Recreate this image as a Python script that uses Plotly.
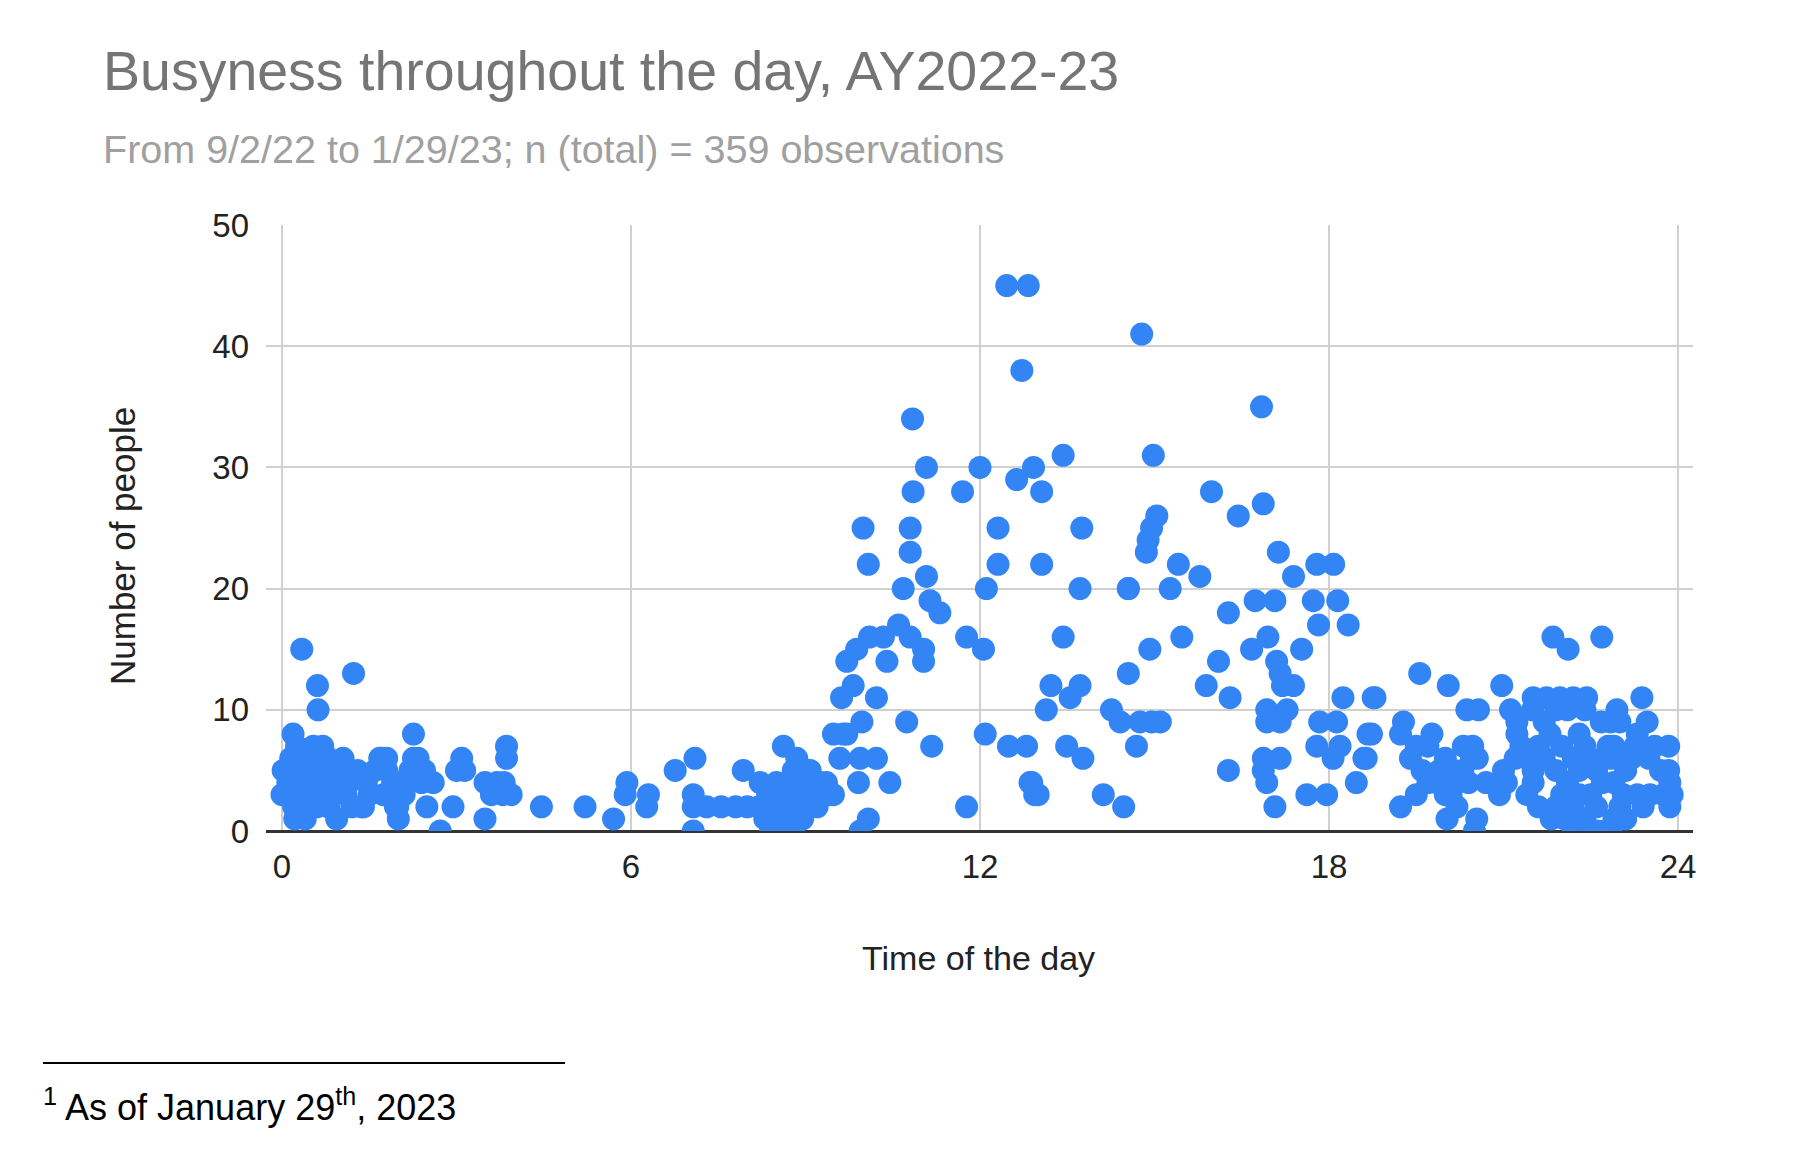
import plotly.graph_objects as go

# ---------------- data (hour of day, number of people) ----------------
night_hours = [0.34, 0.61, 0.62, 1.23, 0.19, 2.26, 3.86, 3.86, 3.09, 3.14, 2.34, 1.71, 1.05, 0.54, 0.05, 0.0, 0.22, 0.94, 2.0, 2.72,
               3.49, 4.46, 2.94, 2.49, 2.6, 3.49, 3.94, 1.37,
               0.1, 0.15, 0.25, 0.3, 0.35, 0.4, 0.45, 0.5, 0.55, 0.6, 0.65, 0.7, 0.75, 0.8, 0.85, 0.9, 1.0, 1.1, 1.15, 1.3,
               1.45, 1.5, 1.6, 1.8, 1.9, 2.1, 2.2, 2.4, 3.7, 3.8, 0.2, 0.4, 1.2, 0.8, 1.95, 2.45, 3.6, 3.0,
               2.03, 1.68, 1.74, 1.8, 1.99, 1.4, 0.6, 0.02, 3.82, 2.26]
night_people = [15, 12, 10, 13, 8, 8, 7, 6, 6, 5, 6, 6, 6, 7, 5, 3, 1, 1, 1, 0,
                1, 2, 2, 2, 4, 4, 3, 2,
                4, 6, 7, 5, 3, 4, 2, 6, 5, 3, 4, 7, 5, 2, 3, 4, 5, 3, 4, 5,
                4, 3, 5, 6, 4, 3, 5, 4, 4, 3, 2, 1, 2, 6, 2, 5, 3, 5,
                4, 6, 3, 5, 2, 2, 2, 5, 4, 6]

morning_hours = [5.21, 5.70, 5.93, 5.90, 6.30, 6.27, 6.76, 7.10, 7.07, 7.07, 7.07, 7.3, 7.55, 7.8, 8.0, 7.93, 8.22, 8.62, 8.85, 9.08,
                 9.36, 9.48,
                 8.2, 8.3, 8.35, 8.4, 8.45, 8.5, 8.55, 8.6, 8.65, 8.7, 8.75, 8.8, 8.9, 8.95, 9.0, 9.1, 9.2,
                 8.4, 8.6, 8.8, 8.5, 8.7, 9.0, 9.2, 8.79, 9.02, 9.25, 9.42]
morning_people = [2, 1, 4, 3, 3, 2, 5, 6, 3, 2, 0, 2, 2, 2, 2, 5, 4, 7, 6, 5,
                  4, 3,
                  2, 1, 3, 2, 1, 2, 3, 1, 2, 3, 1, 2, 3, 1, 2, 3, 2,
                  0, 0, 0, 4, 4, 4, 3, 5, 5, 4, 3]

midday_hours = [9.65, 9.62, 9.71, 10.08, 10.80, 11.08, 10.68, 11.14, 11.31, 12.11,
                12.31, 13.06, 13.72, 13.43, 11.77, 12.06, 10.6, 9.88, 10.1, 10.34,
                10.4, 10.8, 11.03, 11.03, 9.82, 10.22, 9.97, 10.74, 9.48, 9.71,
                11.17, 9.59, 9.94, 10.22, 9.91, 10.45, 10.08, 9.94, 11.77, 12.09,
                12.49, 12.8, 12.89, 12.94, 13.14, 13.22, 13.72, 13.55, 13.49, 13.77,
                12.46, 12.83, 12.72, 10.84, 11.08, 12.0, 13.43, 12.63, 12.92, 13.06, 10.85, 11.70, 9.99, 10.80, 12.31, 13.75,
                12.86, 13.0, 14.12, 14.47, 14.26, 14.41]
midday_people = [8, 11, 14, 22, 23, 21, 20, 19, 18, 20,
                 22, 22, 20, 16, 16, 15, 17, 15, 16, 16,
                 14, 16, 15, 14, 12, 11, 9, 9, 8, 8,
                 7, 6, 6, 6, 4, 4, 1, 0, 2, 8,
                 7, 7, 4, 3, 10, 12, 12, 11, 7, 6,
                 45, 45, 38, 34, 30, 30, 31, 29, 30, 28, 28, 28, 25, 25, 25, 25,
                 4, 3, 3, 2, 10, 9]

afternoon_hours = [14.78, 16.84, 14.98, 15.98, 16.87, 16.44, 15.04, 14.95, 14.89, 14.86,
                   17.13, 15.41, 15.78, 17.39, 17.79, 18.08, 14.55, 15.27, 16.73, 17.07,
                   17.73, 18.15, 17.82, 18.33, 16.27, 15.47, 14.92, 16.95, 16.67, 17.53,
                   16.10, 14.55, 15.89, 16.30, 17.1, 17.16, 17.2, 17.39, 16.93, 17.28,
                   16.93, 17.16, 18.24, 18.76, 17.84, 18.13, 18.19, 18.07, 17.79, 18.67,
                   18.64, 18.47, 17.62, 17.96, 17.07, 16.87, 17.16, 16.87, 16.93, 16.27,
                   14.75, 14.95, 15.1, 14.69, 14.55]
afternoon_people = [41, 35, 31, 28, 27, 26, 26, 25, 24, 23,
                    23, 22, 21, 21, 22, 22, 20, 20, 19, 19,
                    19, 19, 17, 17, 18, 16, 15, 16, 15, 15,
                    14, 13, 12, 11, 14, 13, 12, 12, 10, 10,
                    9, 9, 11, 11, 9, 9, 7, 6, 7, 8,
                    6, 4, 3, 3, 2, 6, 6, 5, 4, 5,
                    9, 9, 9, 7, 20]

evening_hours = [21.85, 22.11, 22.69, 19.56, 20.05, 18.79, 20.97, 20.37, 20.57, 23.38,
                 23.47, 21.51, 21.74, 21.97, 22.2, 22.43, 21.12, 21.23, 21.23, 22.95,
                 22.84, 22.68, 21.5, 21.7, 21.9, 22.1, 22.4, 19.28, 19.23, 19.77,
                 18.73, 18.60, 19.50, 20.31, 20.47, 19.6, 19.7, 19.85, 20.0, 20.15,
                 20.3, 20.45, 20.55, 20.0, 20.2, 19.9, 20.1, 19.23, 20.03, 20.54,
                 20.5, 21.05, 20.93, 21.4, 21.51, 21.51, 21.82, 22.1, 22.3, 22.3,
                 22.5, 22.5, 22.2, 22.4, 22.6, 22.2, 22.4, 22.6, 22.75, 22.85,
                 23.06, 23.3, 23.52, 23.75, 23.86, 23.26, 23.5, 23.84, 23.84, 23.86,
                 22.9, 22.85, 22.8, 21.6, 21.7, 21.8, 21.9, 22.0, 22.0, 22.2,
                 22.3, 22.4, 22.6, 22.7, 22.9, 23.0, 23.1, 23.2, 23.0, 23.3,
                 23.6, 23.7, 23.9, 21.3, 21.2, 21.0, 20.7, 19.4, 19.7, 20.4,
                 20.2, 19.5, 21.6, 21.4, 22.9, 23.1, 23.4, 21.9, 22.05]
evening_people = [16, 15, 16, 13, 12, 11, 12, 10, 10, 11,
                  9, 11, 11, 11, 11, 11, 10, 9, 8, 10,
                  9, 9, 10, 9, 10, 10, 10, 9, 8, 8,
                  8, 6, 7, 7, 7, 5, 4, 4, 3, 5,
                  5, 6, 6, 6, 4, 5, 3, 2, 1, 1,
                  0, 4, 3, 6, 5, 4, 1, 4, 5, 3,
                  6, 3, 2, 1, 2, 0, 0, 0, 0, 0,
                  3, 3, 3, 3, 2, 7, 6, 7, 5, 4,
                  7, 6, 7, 7, 6, 8, 5, 7, 3, 6,
                  8, 7, 5, 4, 4, 2, 5, 6, 9, 8,
                  7, 5, 3, 7, 6, 5, 4, 6, 7, 4,
                  2, 3, 2, 3, 1, 1, 2, 2, 1]

x_ticks = [0, 6, 12, 18, 24]
y_ticks = [0, 10, 20, 30, 40, 50]

TITLE = "Busyness throughout the day, AY2022-23"
SUBTITLE = "From 9/2/22 to 1/29/23; n (total) = 359 observations"
X_TITLE = "Time of the day"
Y_TITLE = "Number of people"
FOOTNOTE = "<sup>1</sup> As of January 29<sup>th</sup>, 2023"

hours = night_hours + morning_hours + midday_hours + afternoon_hours + evening_hours
people = night_people + morning_people + midday_people + afternoon_people + evening_people

# ---------------- layout geometry (page pixels; page body has an 8px margin) ----------------
OFF = 8
W, H = 1794 - 2 * OFF, 1170 - 2 * OFF
PL, PR, PT, PB = 266 - OFF, 1693 - OFF, 225 - OFF, 831 - OFF  # plot area edges in figure px
pw, ph = PR - PL, PB - PT


def px(x):  # page x -> paper x
    return (x - OFF - PL) / pw


def py(y):  # page y -> paper y
    return (PB - (y - OFF)) / ph


FONT = "Liberation Sans, Arial, sans-serif"
BLUE = "#3385F5"

fig = go.Figure()
fig.add_trace(go.Scatter(
    x=hours, y=people, mode="markers",
    marker=dict(size=23, color=BLUE, line=dict(width=0)),
    hoverinfo="x+y", showlegend=False,
))

fig.update_layout(
    width=W, height=H,
    margin=dict(l=PL, r=W - PR, t=PT, b=H - PB, autoexpand=False),
    paper_bgcolor="white", plot_bgcolor="white",
    font=dict(family=FONT, color="#222222"),
    title=dict(text=TITLE, x=(103 - OFF) / W, xanchor="left", xref="container",
               y=1 - (71 - OFF) / H, yanchor="middle", yref="container",
               font=dict(size=55.5, color="#757575", family=FONT)),
    xaxis=dict(range=[-0.275, 24.258], tickvals=x_ticks, ticktext=[str(v) for v in x_ticks],
               showgrid=True, gridcolor="#d0d0d0", gridwidth=1.5,
               zeroline=False, showline=False, ticks="",
               tickfont=dict(size=33, color="#222222"), ticklabelstandoff=13),
    yaxis=dict(range=[0, 50], tickvals=y_ticks, ticktext=[str(v) for v in y_ticks],
               showgrid=True, gridcolor="#d0d0d0", gridwidth=2,
               zeroline=True, zerolinecolor="#333333", zerolinewidth=2.5,
               showline=False, ticks="",
               tickfont=dict(size=33, color="#222222"), ticklabelstandoff=16),
    annotations=[
        dict(text=SUBTITLE, xref="paper", yref="paper", x=px(101), y=py(149),
             xanchor="left", yanchor="middle", showarrow=False,
             font=dict(size=39.5, color="#a0a0a0", family=FONT)),
        dict(text=X_TITLE, xref="paper", yref="paper", x=px(978), y=py(958),
             xanchor="center", yanchor="middle", showarrow=False,
             font=dict(size=34, color="#222222", family=FONT)),
        dict(text=Y_TITLE, xref="paper", yref="paper", x=px(122), y=py(546),
             xanchor="center", yanchor="middle", showarrow=False, textangle=-90,
             font=dict(size=35, color="#222222", family=FONT)),
        dict(text=FOOTNOTE, xref="paper", yref="paper", x=px(41), y=py(1105),
             xanchor="left", yanchor="middle", showarrow=False,
             font=dict(size=36, color="#000000", family=FONT)),
    ],
    shapes=[
        dict(type="line", xref="paper", yref="paper", x0=px(43), x1=px(565),
             y0=py(1063), y1=py(1063), line=dict(color="#000000", width=2)),
    ],
)

fig.write_html("out.html")
